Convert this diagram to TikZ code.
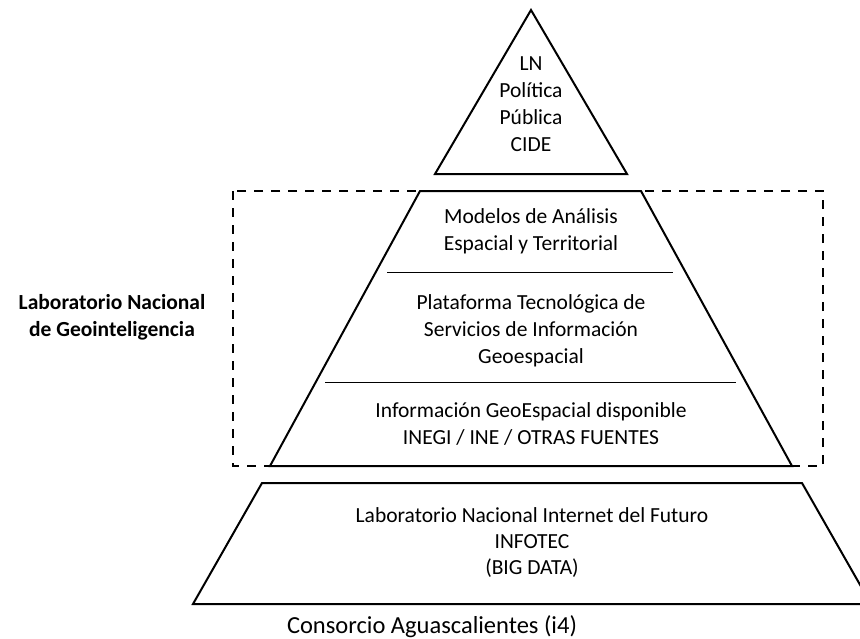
\documentclass[tikz,border=0pt]{standalone}
\usepackage{fontspec}
\setmainfont{Carlito}
\begin{document}
\begin{tikzpicture}[x=1pt,y=-1pt]
\useasboundingbox (0,0) rectangle (860,638);
\tikzset{
  tier/.style={draw=black, line width=2pt, line join=miter},
  divider/.style={draw=black, line width=0.9pt},
  frame/.style={draw=black, line width=2.2pt, dash pattern=on 9pt off 8pt},
  lbl/.style={align=center, font=\fontsize{21.5}{27}\selectfont, inner sep=0pt},
}
% apex triangle
\draw[tier] (531,10) -- (627,174) -- (435,174) -- cycle;
% middle tier with its two inner dividers
\draw[tier] (420,191) -- (641,191) -- (792,466) -- (270,466) -- cycle;
\draw[divider] (387,272) -- (673,272);
\draw[divider] (325,382) -- (736,382);
% base tier
\draw[tier] (262,483) -- (802,483) -- (871,604) -- (193,604) -- cycle;
% dashed frame around the laboratory tiers
\draw[frame] (233,191) rectangle (823,466);

% texts
\node[lbl] (apex) at (531,104) {LN\\Política\\Pública\\CIDE};
\node[lbl] (modelos) at (531,231) {Modelos de Análisis\\Espacial y Territorial};
\node[lbl] (plataforma) at (531,331) {Plataforma Tecnológica de\\Servicios de Información\\Geoespacial};
\node[lbl] (info) at (531,424) {Información GeoEspacial disponible\\INEGI / INE / OTRAS FUENTES};
\node[lbl, font=\fontsize{21.5}{26}\selectfont] (infotec) at (532,543) {Laboratorio Nacional Internet del Futuro\\INFOTEC\\(BIG DATA)};
\node[lbl, font=\bfseries\fontsize{21.5}{27}\selectfont] (geo) at (112,317) {Laboratorio Nacional\\de Geointeligencia};
\node[lbl, font=\fontsize{24.5}{28}\selectfont, anchor=base] (consorcio) at (432,633) {Consorcio Aguascalientes (i4)};
\end{tikzpicture}
\end{document}
